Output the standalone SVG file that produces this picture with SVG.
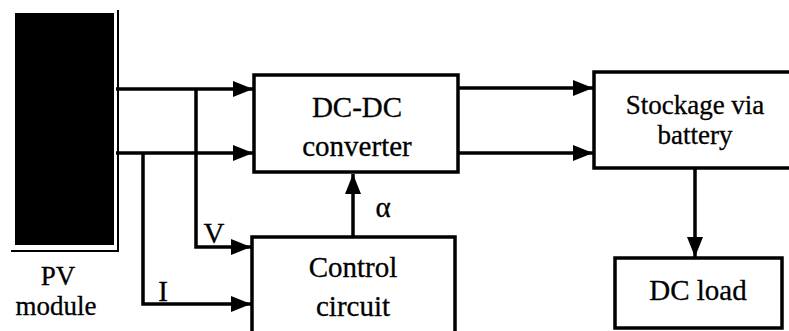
<svg xmlns="http://www.w3.org/2000/svg" width="789" height="331" viewBox="0 0 789 331">
<style>
.box{fill:#fff;stroke:#000;stroke-width:3.5}
.ln{fill:none;stroke:#000;stroke-width:3.5}
.t{font-family:"Liberation Serif","Times New Roman",serif;font-size:29px;fill:#000;text-anchor:middle;stroke:#000;stroke-width:0.3}
.s{font-size:27px}
</style>
<defs>
<marker id="ah" markerUnits="userSpaceOnUse" markerWidth="20" markerHeight="16" refX="20" refY="8" orient="auto">
<path d="M0,0 L20,8 L0,16 z" fill="#000"/>
</marker>
</defs>
<rect width="789" height="331" fill="#fff"/>
<g id="pv">
<rect x="15" y="13" width="99" height="232" fill="#000"/>
<path d="M118,10 V251 H11" fill="none" stroke="#000" stroke-width="2"/>
<text class="t s" x="58" y="285">PV</text>
<text class="t s" x="56" y="315">module</text>
</g>
<g id="dcdc">
<rect class="box" x="254" y="75" width="204" height="97"/>
<text class="t" x="357" y="117">DC-DC</text>
<text class="t" x="357" y="156">converter</text>
</g>
<g id="control">
<rect class="box" x="252" y="237" width="203" height="110"/>
<text class="t" x="353" y="277">Control</text>
<text class="t" x="353" y="316">circuit</text>
</g>
<g id="battery">
<rect class="box" x="594" y="72" width="210" height="96"/>
<text class="t s" x="695" y="114">Stockage via</text>
<text class="t s" x="695" y="144">battery</text>
</g>
<g id="load">
<rect class="box" x="615" y="258" width="167" height="70"/>
<text class="t" x="698" y="300">DC load</text>
</g>
<g id="connectors">
<path class="ln" d="M116,89 H253" marker-end="url(#ah)"/>
<path class="ln" d="M116,153 H253" marker-end="url(#ah)"/>
<path class="ln" d="M196,89 V247 H251" marker-end="url(#ah)"/>
<path class="ln" d="M143,153 V304 H251" marker-end="url(#ah)"/>
<path class="ln" d="M458,88 H593" marker-end="url(#ah)"/>
<path class="ln" d="M458,153 H593" marker-end="url(#ah)"/>
<path class="ln" d="M353,236 V174" marker-end="url(#ah)"/>
<path class="ln" d="M695,168 V257" marker-end="url(#ah)"/>
<text class="t" x="214" y="243">V</text>
<text class="t" x="163" y="301">I</text>
<text class="t" x="383" y="217">α</text>
</g>
</svg>
